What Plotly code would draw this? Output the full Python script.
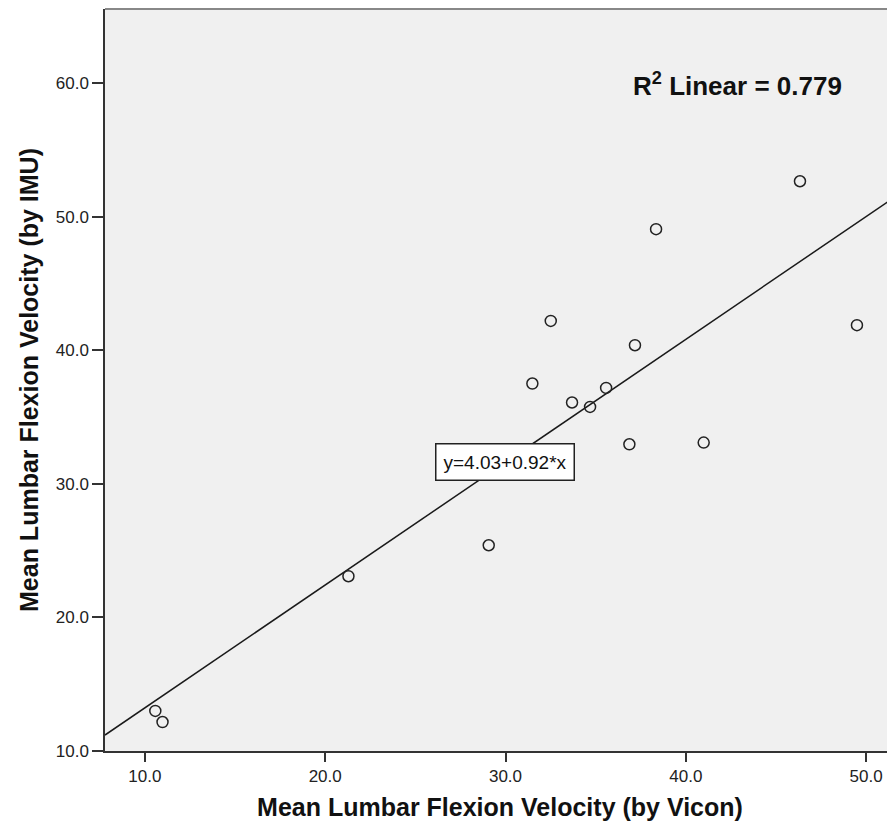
import plotly.graph_objects as go

# Data
vicon = [10.58, 10.98, 21.29, 29.07, 31.49, 32.51, 33.69, 34.69, 35.58, 36.87, 37.18, 38.35, 40.99, 46.33, 49.49]
imu = [13.00, 12.17, 23.09, 25.41, 37.52, 42.21, 36.10, 35.77, 37.19, 32.97, 40.39, 49.08, 33.10, 52.67, 41.89]

intercept = 4.03
slope = 0.92
r2_text = "<b>R<sup>2</sup> Linear = 0.779</b>"
eq_text = "y=4.03+0.92*x"

x_range = [7.79, 51.6]
y_range = [10.0, 65.57]
x_ticks = [10, 20, 30, 40, 50]
y_ticks = [10, 20, 30, 40, 50, 60]

fit_x = [x_range[0], x_range[1]]
fit_y = [intercept + slope * v for v in fit_x]

# The page body has an 8px margin, so the figure is sized to fill the rest.
W, H = 887, 820
ML, MR, MT, MB = 97, 0, 1, 77

fig = go.Figure()
fig.add_trace(go.Scatter(
    x=fit_x, y=fit_y, mode="lines",
    line=dict(color="#1a1a1a", width=1.5),
    showlegend=False, hoverinfo="skip"))
fig.add_trace(go.Scatter(
    x=vicon, y=imu, mode="markers",
    marker=dict(symbol="circle-open", size=11, color="#222222",
                line=dict(width=1.5, color="#222222")),
    showlegend=False))

fig.add_annotation(x=29.98, y=31.63, xref="x", yref="y", text=eq_text,
                   showarrow=False, bgcolor="white", bordercolor="#222222",
                   borderwidth=1.5, borderpad=7, xanchor="center", yanchor="middle",
                   font=dict(family="Arial, Liberation Sans, sans-serif", size=19, color="#111111"))

pw = W - ML - MR
ph = H - MT - MB
fig.add_annotation(x=(737 - 8 - ML) / pw, y=1 - (84 - 8 - MT) / ph,
                   xref="paper", yref="paper", text=r2_text,
                   showarrow=False, xanchor="center", yanchor="middle",
                   font=dict(family="Arial, Liberation Sans, sans-serif", size=26, color="#111111"))

fig.update_layout(
    width=W, height=H,
    margin=dict(l=ML, r=MR, t=MT, b=MB),
    paper_bgcolor="white",
    plot_bgcolor="#f0f0f0",
    font=dict(family="Arial, Liberation Sans, sans-serif", color="#111111"),
)

fig.update_xaxes(
    range=x_range, tickvals=x_ticks, tickformat=".1f",
    showgrid=False, zeroline=False,
    showline=True, linecolor="#333333", linewidth=1.5,
    ticks="outside", ticklen=9, tickwidth=1.5, tickcolor="#333333",
    tickfont=dict(family="Arial, Liberation Sans, sans-serif", size=17, color="#222222"),
    title=dict(text="<b>Mean Lumbar Flexion Velocity (by Vicon)</b>", standoff=13,
               font=dict(family="Arial, Liberation Sans, sans-serif", size=25, color="#111111")),
    automargin=False,
)
fig.update_yaxes(
    range=y_range, tickvals=y_ticks, tickformat=".1f",
    showgrid=False, zeroline=False,
    showline=True, linecolor="#333333", linewidth=1.5,
    ticks="outside", ticklen=11, tickwidth=1.5, tickcolor="#333333",
    tickfont=dict(family="Arial, Liberation Sans, sans-serif", size=17, color="#222222"),
    title=dict(text="<b>Mean Lumbar Flexion Velocity (by IMU)</b>", standoff=10,
               font=dict(family="Arial, Liberation Sans, sans-serif", size=25, color="#111111")),
    automargin=False,
)
# top border
fig.add_shape(type="line", xref="paper", yref="paper", x0=0, x1=1, y0=1, y1=1,
              line=dict(color="#888888", width=2))

fig.write_html("out.html")
